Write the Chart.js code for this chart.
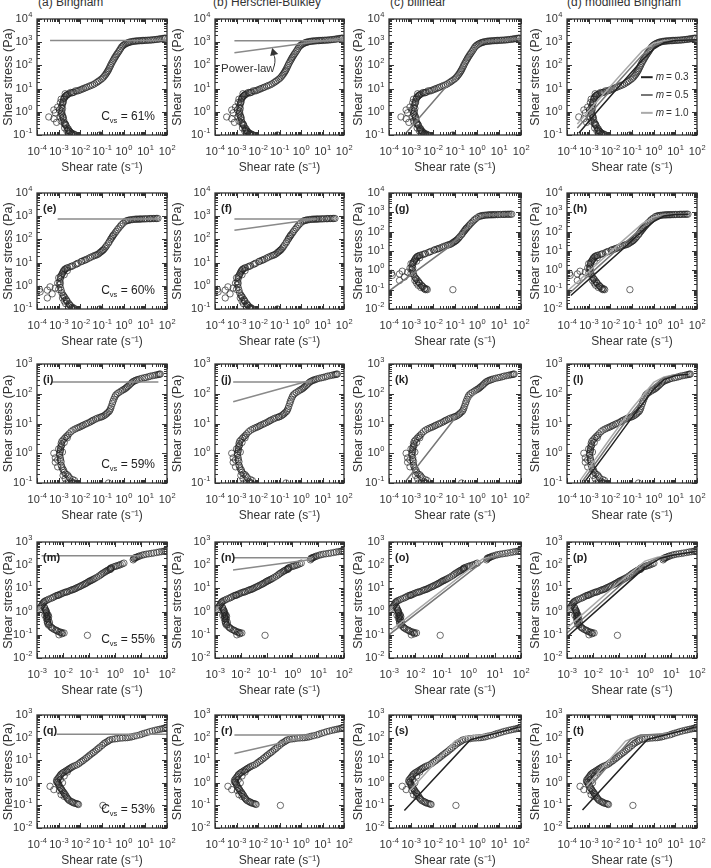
<!DOCTYPE html>
<html>
<head>
<meta charset="utf-8">
<script src="https://cdn.jsdelivr.net/npm/chart.js@4.4.0/dist/chart.umd.min.js"></script>
<style>
body{margin:0;background:#fff;width:711px;height:868px;position:relative;overflow:hidden;font-family:"Liberation Sans",Arial,sans-serif;color:#333}
canvas{position:absolute}
.ttl{position:absolute;top:-5px;font-size:12px;white-space:nowrap;line-height:14px}
</style>
</head>
<body>
<div class="ttl" style="left:38px">(a) Bingham</div>
<div class="ttl" style="left:213px">(b) Herschel-Bulkley</div>
<div class="ttl" style="left:390px">(c) bilinear</div>
<div class="ttl" style="left:567px">(d) modified Bingham</div>
<script>
// measured flow curves, [shear rate (1/s), shear stress (Pa)]
var cvs61 = [[0.0045,0.1],[0.005,0.11],[0.0055,0.1],[0.004,0.12],[0.0035,0.13],[0.003,0.15],[0.0028,0.18],[0.0025,0.2],[0.0022,0.25],[0.002,0.3],[0.0018,0.35],[0.0017,0.45],[0.0016,0.55],[0.0015,0.7],[0.0014,0.9],[0.0014,1.1],[0.0015,1.4],[0.0014,1.8],[0.0015,2.2],[0.0016,2.8],[0.0017,3.5],[0.0019,4.3],[0.0022,5],[0.0026,5.6],[0.003,6],[0.004,6.5],[0.005,7],[0.007,7.8],[0.01,8.8],[0.014,10],[0.02,11.5],[0.03,13.5],[0.045,16],[0.065,20],[0.09,25],[0.12,32],[0.15,42],[0.18,55],[0.21,72],[0.25,100],[0.3,140],[0.36,190],[0.43,250],[0.52,330],[0.65,450],[0.8,620],[1,760],[1.3,880],[1.7,970],[2.2,1040],[3,1100],[4,1130],[5.5,1160],[7.5,1180],[10,1200],[14,1220],[20,1250],[28,1300],[40,1350],[55,1420],[75,1480],
  [0.012,9.5],[0.017,10.8],[0.025,12.5],[0.037,14.5],[0.055,18],[0.075,22],[0.105,28],[0.135,37],[0.165,48],[0.195,62],[0.23,85],[0.27,118],[0.33,165],[0.39,220],[0.47,290],[0.58,385],[0.72,530],[0.9,690],[1.15,820],[1.5,930],[1.9,1010],[2.6,1075],[3.5,1115],[4.7,1145],[6.5,1170],[8.5,1190],[12,1210],[17,1235],[24,1275],[34,1320],[47,1385],[65,1450],[85,1500],
  [0.0013,0.8],[0.0013,1.5],[0.0016,2.5],[0.0018,3.9],[0.0021,4.7],[0.0024,5.3],[0.0045,6.8],[0.0085,8.3],[0.0016,0.6],[0.0018,0.3],[0.0021,0.28],[0.0027,0.16],[0.0033,0.14],[0.0042,0.11],[0.006,0.1],
  [0.0012,0.6],[0.0011,1.2],[0.0013,0.4],[0.0019,0.2],[0.0024,0.15],[0.003,0.12],[0.0012,2.5],[0.0013,3.5],[0.002,6],[0.0035,6.8],[0.006,8],
  [0.00035,0.6],[0.0006,1.2],[0.0007,0.9],[0.0008,0.35],[0.0009,1.6],[0.0006,0.5],[0.08,0.1]];
var cvs60 = [[0.0045,0.1],[0.005,0.11],[0.0042,0.12],[0.0035,0.14],[0.003,0.17],[0.0025,0.21],[0.0022,0.26],[0.0019,0.32],[0.0016,0.4],[0.0014,0.5],[0.0013,0.65],[0.0012,0.85],[0.0011,1.1],[0.0011,1.5],[0.0012,2],[0.0013,2.7],[0.0015,3.5],[0.0017,4.5],[0.002,5.3],[0.0026,6],[0.0033,6.5],[0.0045,7.3],[0.006,8.3],[0.008,9.5],[0.011,11],[0.015,12.5],[0.02,14],[0.03,17],[0.045,20],[0.06,22],[0.08,27],[0.1,32],[0.12,37],[0.15,48],[0.2,70],[0.25,100],[0.3,130],[0.35,160],[0.45,220],[0.6,310],[0.8,430],[1.2,600],[1.6,660],[2.1,700],[3,730],[4,745],[5.3,750],[7,760],[10,770],[15,780],[20,790],[28,795],[38,800],
  [0.012,11.5],[0.017,13],[0.025,15.5],[0.037,18.5],[0.052,21],[0.07,24],[0.09,29],[0.11,34],[0.135,42],[0.17,57],[0.22,82],[0.27,112],[0.32,145],[0.4,190],[0.52,265],[0.7,370],[0.95,500],[1.4,640],[1.8,680],[2.5,715],[3.5,740],[4.6,748],[6,755],[8.5,765],[12,775],[17,785],[24,792],[33,798],
  [0.0012,1.3],[0.0012,2.4],[0.0014,3.1],[0.0016,4],[0.0019,5],[0.0023,5.7],[0.0039,6.9],[0.007,8.9],[0.0017,0.36],[0.0023,0.23],[0.0032,0.15],[0.004,0.11],[0.0055,0.1],
  [0.0015,0.3],[0.0018,0.22],[0.0021,0.17],[0.0028,0.13],[0.001,0.7],[0.0009,1.3],[0.001,2.2],[0.0018,3],[0.0025,4.5],
  [0.00013,0.7],[0.00014,0.55],[0.0003,0.3],[0.0007,0.8],[0.0003,0.65],[0.0005,0.45],[0.0004,0.9],[0.08,0.1]];
var cvs59 = [[0.0038,0.1],[0.0055,0.12],[0.005,0.1],[0.0045,0.13],[0.0032,0.15],[0.0025,0.19],[0.0018,0.23],[0.0015,0.3],[0.0013,0.4],[0.0013,0.52],[0.0012,0.7],[0.0011,0.85],[0.0011,1],[0.0012,1.3],[0.0013,1.7],[0.0013,2.1],[0.0016,2.8],[0.0022,3.6],[0.003,4.5],[0.0046,6],[0.007,7],[0.01,7.8],[0.0136,8.8],[0.02,10],[0.03,11.5],[0.04,13],[0.06,15],[0.09,16.5],[0.12,18],[0.16,21],[0.21,25],[0.25,32],[0.3,47],[0.35,65],[0.43,90],[0.6,110],[0.9,133],[1.2,150],[1.5,173],[2,210],[2.6,250],[3.5,280],[4.6,300],[7,330],[11,355],[17,390],[28,420],[40,445],[49,460],
  [0.0085,7.4],[0.012,8.3],[0.017,9.4],[0.025,10.7],[0.035,12.3],[0.05,14],[0.075,15.8],[0.1,17],[0.14,19.5],[0.18,23],[0.23,28],[0.27,38],[0.32,55],[0.39,78],[0.5,100],[0.75,122],[1.05,141],[1.35,162],[1.75,190],[2.3,230],[3,265],[4,290],[5.5,315],[9,345],[14,372],[22,405],[34,432],[45,452],
  [0.0012,0.6],[0.0012,1.15],[0.0012,1.5],[0.0014,1.9],[0.0014,2.5],[0.0019,3.2],[0.0026,4],[0.0037,5.3],[0.0057,6.5],[0.0014,0.35],[0.0017,0.27],[0.0021,0.2],[0.0028,0.17],[0.004,0.11],[0.0045,0.1],
  [0.0016,0.18],[0.002,0.14],[0.0009,0.6],[0.001,1.4],[0.0015,1.1],[0.0018,2.3],[0.0025,3.3],
  [0.0006,1],[0.0007,0.5],[0.0009,0.35],[0.0007,0.7],[0.2,0.1],[0.0022,0.1]];
var cvs55 = [[0.0013,1.4],[0.0015,1.8],[0.0017,2.3],[0.0019,2.7],[0.0024,3.1],[0.0034,3.7],[0.0045,4.3],[0.006,5],[0.007,5.2],[0.009,6],[0.012,6.8],[0.015,7.2],[0.02,8.3],[0.025,9],[0.031,10],[0.04,11.5],[0.05,13],[0.065,15],[0.08,17],[0.1,20],[0.12,22],[0.15,25],[0.2,30],[0.28,38],[0.35,46],[0.45,55],[0.55,62],[0.68,67],[0.7,75],[0.9,85],[1.2,94],[1.6,105],[2.2,123],[5,170],[5.3,200],[6,210],[7,225],[9,250],[13,284],[20,310],[31,335],[50,370],[75,400],[95,420],
  [0.0014,1.6],[0.0016,2],[0.0018,2.5],[0.0021,2.9],[0.0028,3.4],[0.004,4],[0.0052,4.7],[0.0065,5.1],[0.008,5.6],[0.0105,6.4],[0.0135,7],[0.0175,7.8],[0.0225,8.7],[0.028,9.5],[0.035,10.8],[0.045,12.2],[0.057,14],[0.072,16],[0.09,18.5],[0.11,21],[0.135,23.5],[0.17,27],[0.24,34],[0.31,42],[0.4,50],[0.5,58],[0.62,65],[0.66,72],[0.75,78],[1.05,90],[1.4,100],[1.9,114],[5.5,190],[6.5,215],[8,240],[11,270],[16,298],[25,322],[40,352],[62,385],[85,410],
  [0.002,1.4],[0.0022,1.1],[0.0023,0.9],[0.0025,0.75],[0.0024,0.58],[0.0027,0.45],[0.0025,0.35],[0.003,0.28],[0.0037,0.2],[0.0046,0.17],[0.0058,0.15],[0.0075,0.13],[0.0095,0.12],[0.0028,0.6],[0.002,0.7],
  [0.0019,1.6],[0.0021,1.2],[0.0022,0.83],[0.0024,0.65],[0.0026,0.51],[0.0025,0.4],[0.0026,0.3],[0.0028,0.26],[0.0034,0.22],[0.004,0.19],[0.0053,0.16],[0.0065,0.14],[0.0083,0.13],[0.011,0.12],[0.007,0.1],[0.009,0.11],[0.0023,1],[0.0027,0.7],[0.0023,0.5],[0.003,0.35],[0.087,0.095]];
var cvs53 = [[0.0082,0.11],[0.0065,0.12],[0.0048,0.13],[0.0038,0.15],[0.0028,0.18],[0.0024,0.22],[0.002,0.3],[0.0017,0.38],[0.0014,0.49],[0.0012,0.6],[0.001,0.81],[0.0009,1],[0.0008,1.3],[0.001,1.7],[0.0012,2.2],[0.0015,2.7],[0.002,3.2],[0.0027,3.8],[0.0034,4.4],[0.0045,5.2],[0.0069,6.2],[0.01,8],[0.014,10],[0.02,13],[0.028,17],[0.04,22],[0.057,29],[0.08,38],[0.12,53],[0.17,65],[0.23,79],[0.4,88],[0.68,94],[1.2,98],[1.9,103],[3,115],[5.6,132],[9,155],[16,184],[28,210],[46,233],[70,255],[94,277],
  [0.0009,1.1],[0.0009,1.5],[0.0011,1.9],[0.0013,2.4],[0.0017,2.9],[0.0023,3.5],[0.003,4.1],[0.0039,4.8],[0.0055,5.7],[0.0085,7],[0.012,9],[0.017,11.5],[0.024,15],[0.034,19.5],[0.048,25],[0.068,33],[0.1,45],[0.14,59],[0.2,72],[0.3,84],[0.5,90],[0.9,96],[1.5,100],[2.4,108],[4,122],[7,143],[12,168],[21,196],[36,222],[58,244],[82,266],
  [0.0075,0.115],[0.0056,0.125],[0.0043,0.14],[0.0032,0.16],[0.0026,0.2],[0.0022,0.26],[0.0018,0.34],[0.0015,0.43],[0.0013,0.55],[0.0011,0.7],[0.001,0.9],[0.0008,1.1],
  [0.0013,0.3],[0.0018,0.25],[0.0011,0.45],[0.0015,1],[0.0012,1.4],[0.0018,2],[0.0025,3],[0.0004,0.7],[0.0006,0.5],[0.11,0.1]];

// fitted model lines
var fitA = [[0.0004,1170],[100,1170]];
var fitB = [[0.0008,1150],[100,1150]];
var fitBpow = [[0.0008,350],[100,1500]];
var fitC = [[0.0005,0.1],[0.03,9],[0.1,28],[0.5,330],[2,1050],[100,1450]];
var fitD03 = [[0.00035,0.12],[0.003,1.3],[0.03,15],[0.3,170],[1,500],[3,950],[10,1170],[100,1260]];
var fitD05 = [[0.0003,0.2],[0.003,2.3],[0.03,26],[0.3,280],[1,700],[3,1050],[10,1200],[100,1260]];
var fitD10 = [[0.0003,0.3],[0.003,3.5],[0.03,40],[0.3,420],[1,900],[3,1150],[10,1230],[100,1260]];

var fitE = [[0.0009,760],[40,760]];
var fitF = [[0.0008,760],[5,760]];
var fitFpow = [[0.0008,250],[5,760]];
var fitG = [[0.0001,0.085],[0.06,18],[0.6,310],[2,700],[40,850]];
var fitH03 = [[0.00015,0.05],[0.003,1],[0.03,10],[0.3,110],[1,330],[3,640],[10,780],[40,800]];
var fitH05 = [[0.00012,0.06],[0.003,1.7],[0.03,17],[0.3,170],[1,450],[3,710],[10,790],[40,800]];
var fitH10 = [[0.0001,0.08],[0.003,2.6],[0.03,27],[0.3,260],[1,580],[3,760],[10,795],[40,800]];

var fitI = [[0.0005,250],[40,250]];
var fitJ = [[0.0007,250],[3.2,250]];
var fitJpow = [[0.0007,54],[3.2,290]];
var fitK = [[0.0005,0.1],[0.15,22],[0.3,47],[2,210],[40,450]];
var fitL03 = [[0.0006,0.1],[0.01,1.6],[0.1,16],[1,140],[3,300],[10,410],[40,450]];
var fitL05 = [[0.0005,0.11],[0.01,2.3],[0.1,23],[1,190],[3,340],[10,425],[40,450]];
var fitL10 = [[0.0004,0.12],[0.01,3.2],[0.1,32],[1,240],[3,370],[10,435],[40,450]];

var fitM = [[0.0015,257],[10,257]];
var fitN = [[0.005,210],[5.4,210]];
var fitNpow = [[0.005,62],[5.4,178]];
var fitO1 = [[0.001,0.1],[4.9,185],[100,450]];
var fitO2 = [[0.0012,0.16],[3.5,185],[100,430]];
var fitP03 = [[0.001,0.08],[0.1,8],[1,80],[4,200],[10,260],[100,400]];
var fitP05 = [[0.001,0.12],[0.1,12],[1,110],[3,200],[10,270],[100,400]];
var fitP10 = [[0.001,0.2],[0.1,18],[1,150],[3,220],[10,280],[100,400]];

var fitQ = [[0.0008,140],[100,140]];
var fitR = [[0.0008,130],[5,130]];
var fitRpow = [[0.0008,20],[5,130]];
var fitS1 = [[0.0005,0.06],[0.5,80],[4,135],[100,300]];
var fitS2 = [[0.0008,0.4],[0.1,70],[0.3,110],[4,145],[100,270]];
var fitT03 = [[0.00052,0.062],[0.51,83],[4.2,137],[100,300]];
var fitT05 = [[0.0009,0.5],[0.087,83],[0.25,130],[4.2,145],[100,260]];
var fitT10 = [[0.0008,0.7],[0.05,70],[0.2,120],[4,150],[100,260]];

var cvsLabels = ['61%', '60%', '59%', '55%', '53%'];
var mLabels = ['0.3', '0.5', '1.0'];

// layout of the 4 x 5 grid (plot area in page pixels)
var colLeft = [37, 215, 389, 567];
var colWidth = [130, 129, 132, 130];
var colPad = [37, 46, 39, 40];
var rowTop = [19, 193, 364, 542, 715];
var rowHeight = [116, 116, 119, 116, 113];

var gray1 = '#222', gray2 = '#777', gray3 = '#aaa', lineGray = '#8a8a8a';
var fam = '"Liberation Sans", Arial, sans-serif';

function pts(arr) {
    return arr.map(function (p) { return {x: p[0], y: p[1]}; });
}

function fitLine(arr, color, width) {
    return {type: 'line', data: pts(arr), borderColor: color, borderWidth: width || 1.5,
        pointRadius: 0, showLine: true, fill: false, tension: 0, order: 0};
}

function logTicks(min, max) {
    var out = [];
    for (var e = Math.round(Math.log10(min)); e < Math.round(Math.log10(max)); e++) {
        for (var s = 1; s < 10; s++) out.push({v: s * Math.pow(10, e), major: s === 1, e: e});
    }
    out.push({v: max, major: true, e: Math.round(Math.log10(max))});
    return out;
}

// "10" with a small raised exponent, anchored by align ('center' or 'right')
function powLabel(ctx, e, x, y, align) {
    ctx.font = '11px ' + fam;
    var w1 = ctx.measureText('10').width;
    ctx.font = '7.5px ' + fam;
    var w2 = ctx.measureText(String(e)).width;
    var x0 = align === 'right' ? x - w1 - w2 : x - (w1 + w2) / 2;
    ctx.font = '11px ' + fam;
    ctx.fillText('10', x0, y);
    ctx.font = '7.5px ' + fam;
    ctx.fillText(String(e), x0 + w1 + 0.5, y - 4);
}

// frame with inward ticks on all sides, tick labels, panel tag, Cvs note, legend, arrow
var panelPlugin = {
    id: 'panel',
    afterDraw: function (chart, args, o) {
        var ctx = chart.ctx, a = chart.chartArea, x = chart.scales.x, y = chart.scales.y;
        var xt = logTicks(x.min, x.max), yt = logTicks(y.min, y.max);
        ctx.save();
        ctx.strokeStyle = '#333';
        ctx.lineWidth = 1;
        ctx.beginPath();
        xt.forEach(function (t) {
            var px = Math.round(x.getPixelForValue(t.v)) + 0.5, l = t.major ? 5 : 3;
            ctx.moveTo(px, a.bottom); ctx.lineTo(px, a.bottom - l);
            ctx.moveTo(px, a.top); ctx.lineTo(px, a.top + l);
        });
        yt.forEach(function (t) {
            var py = Math.round(y.getPixelForValue(t.v)) + 0.5, l = t.major ? 5 : 3;
            ctx.moveTo(a.left, py); ctx.lineTo(a.left + l, py);
            ctx.moveTo(a.right, py); ctx.lineTo(a.right - l, py);
        });
        ctx.stroke();
        ctx.lineWidth = 1.3;
        ctx.strokeRect(a.left, a.top, a.right - a.left, a.bottom - a.top);

        ctx.fillStyle = '#333';
        ctx.textBaseline = 'middle';
        ctx.textAlign = 'left';
        xt.forEach(function (t) { if (t.major) powLabel(ctx, t.e, x.getPixelForValue(t.v), a.bottom + 17, 'center'); });
        yt.forEach(function (t) { if (t.major) powLabel(ctx, t.e, a.left - 5, y.getPixelForValue(t.v), 'right'); });

        ctx.fillStyle = '#222';
        if (o.tag) {
            ctx.font = 'bold 11px ' + fam;
            ctx.fillText(o.tag, a.left + 6, a.top + o.tagDy);
        }
        if (o.cvs) {
            var big = '12px ' + fam, small = '7.5px ' + fam;
            var rest = ' = ' + o.cvs;
            ctx.font = big; var wC = ctx.measureText('C').width, wR = ctx.measureText(rest).width;
            ctx.font = small; var wS = ctx.measureText('vs').width;
            var x0 = a.right - 12 - wC - wS - wR, yy = a.bottom - 18;
            ctx.font = big; ctx.fillText('C', x0, yy);
            ctx.font = small; ctx.fillText('vs', x0 + wC, yy + 4);
            ctx.font = big; ctx.fillText(rest, x0 + wC + wS, yy);
        }
        if (o.legend) {
            var cols = [gray1, gray2, gray3], ys = [31, 5.3, 0.9];
            ys.forEach(function (v, i) {
                var py = y.getPixelForValue(v);
                ctx.strokeStyle = cols[i];
                ctx.lineWidth = 2;
                ctx.beginPath();
                ctx.moveTo(x.getPixelForValue(0.26), py);
                ctx.lineTo(x.getPixelForValue(0.9), py);
                ctx.stroke();
                var tx = x.getPixelForValue(1.25);
                ctx.fillStyle = '#333';
                ctx.font = 'italic 10px ' + fam;
                ctx.fillText('m', tx, py);
                var wm = ctx.measureText('m').width;
                ctx.font = '10px ' + fam;
                ctx.fillText('= ' + mLabels[i], tx + wm + 2, py);
            });
        }
        if (o.note) {
            ctx.font = '11.5px ' + fam;
            ctx.fillStyle = '#333';
            ctx.fillText('Power-law', x.getPixelForValue(0.00019), y.getPixelForValue(70));
            var tipX = x.getPixelForValue(0.051), tipY = y.getPixelForValue(560);
            var tailY = y.getPixelForValue(93);
            ctx.strokeStyle = '#333';
            ctx.lineWidth = 1;
            ctx.beginPath();
            ctx.moveTo(tipX + 1, tailY);
            ctx.quadraticCurveTo(tipX + 3, tipY + 10, tipX, tipY + 6);
            ctx.stroke();
            ctx.beginPath();
            ctx.moveTo(tipX - 1, tipY);
            ctx.lineTo(tipX + 5, tipY + 6);
            ctx.lineTo(tipX - 3, tipY + 8);
            ctx.closePath();
            ctx.fill();
        }
        ctx.restore();
    }
};

var panels = [
    {r: 0, c: 0, data: cvs61, ymin: 0.1, ymax: 1e4, fits: [[fitA, lineGray]], cvs: cvsLabels[0]},
    {r: 0, c: 1, data: cvs61, ymin: 0.1, ymax: 1e4, fits: [[fitB, lineGray], [fitBpow, lineGray]], note: true},
    {r: 0, c: 2, data: cvs61, ymin: 0.1, ymax: 1e4, fits: [[fitC, gray2]]},
    {r: 0, c: 3, data: cvs61, ymin: 0.1, ymax: 1e4, fits: [[fitD03, gray1], [fitD05, gray2], [fitD10, gray3]], legend: true},
    {r: 1, c: 0, data: cvs60, ymin: 0.1, ymax: 1e4, fits: [[fitE, lineGray]], tag: '(e)', cvs: cvsLabels[1]},
    {r: 1, c: 1, data: cvs60, ymin: 0.1, ymax: 1e4, fits: [[fitF, lineGray], [fitFpow, lineGray]], tag: '(f)'},
    {r: 1, c: 2, data: cvs60, ymin: 0.01, ymax: 1e4, fits: [[fitG, gray2]], tag: '(g)'},
    {r: 1, c: 3, data: cvs60, ymin: 0.01, ymax: 1e4, fits: [[fitH03, gray1], [fitH05, gray2], [fitH10, gray3]], tag: '(h)'},
    {r: 2, c: 0, data: cvs59, ymin: 0.1, ymax: 1e3, fits: [[fitI, lineGray]], tag: '(i)', cvs: cvsLabels[2]},
    {r: 2, c: 1, data: cvs59, ymin: 0.1, ymax: 1e3, fits: [[fitJ, lineGray], [fitJpow, lineGray]], tag: '(j)'},
    {r: 2, c: 2, data: cvs59, ymin: 0.1, ymax: 1e3, fits: [[fitK, gray2]], tag: '(k)'},
    {r: 2, c: 3, data: cvs59, ymin: 0.1, ymax: 1e3, fits: [[fitL03, gray1], [fitL05, gray2], [fitL10, gray3]], tag: '(l)'},
    {r: 3, c: 0, data: cvs55, xmin: 1e-3, ymin: 0.01, ymax: 1e3, fits: [[fitM, lineGray]], tag: '(m)', cvs: cvsLabels[3]},
    {r: 3, c: 1, data: cvs55, xmin: 1e-3, ymin: 0.01, ymax: 1e3, fits: [[fitN, lineGray], [fitNpow, lineGray]], tag: '(n)'},
    {r: 3, c: 2, data: cvs55, xmin: 1e-3, ymin: 0.01, ymax: 1e3, fits: [[fitO1, gray2], [fitO2, gray3]], tag: '(o)'},
    {r: 3, c: 3, data: cvs55, xmin: 1e-3, ymin: 0.01, ymax: 1e3, fits: [[fitP03, gray1], [fitP05, gray2], [fitP10, gray3]], tag: '(p)'},
    {r: 4, c: 0, data: cvs53, ymin: 0.01, ymax: 1e3, fits: [[fitQ, lineGray]], tag: '(q)', cvs: cvsLabels[4]},
    {r: 4, c: 1, data: cvs53, ymin: 0.01, ymax: 1e3, fits: [[fitR, lineGray], [fitRpow, lineGray]], tag: '(r)'},
    {r: 4, c: 2, data: cvs53, ymin: 0.01, ymax: 1e3, fits: [[fitS1, gray1], [fitS2, gray3]], tag: '(s)'},
    {r: 4, c: 3, data: cvs53, ymin: 0.01, ymax: 1e3, fits: [[fitT03, gray1], [fitT05, gray2], [fitT10, gray3]], tag: '(t)'}
];

var tPad = 10, rPad = 12, bPad = 42;

panels.forEach(function (p) {
    var lPad = colPad[p.c];
    var w = colWidth[p.c] + lPad + rPad, h = rowHeight[p.r] + tPad + bPad;
    var cv = document.createElement('canvas');
    cv.width = w; cv.height = h;
    cv.style.left = (colLeft[p.c] - lPad) + 'px';
    cv.style.top = (rowTop[p.r] - tPad) + 'px';
    document.body.appendChild(cv);

    var sets = p.fits.map(function (f) { return fitLine(f[0], f[1]); });
    sets.push({data: pts(p.data), pointStyle: 'circle', pointRadius: 3.2, borderWidth: 0.9,
        borderColor: 'rgba(30,30,30,0.72)', backgroundColor: 'rgba(0,0,0,0)', order: 1});

    new Chart(cv, {
        type: 'scatter',
        data: {datasets: sets},
        options: {
            responsive: false, animation: false, devicePixelRatio: 1,
            layout: {padding: {top: tPad, right: rPad, left: 0, bottom: 0}},
            plugins: {legend: {display: false}, tooltip: {enabled: false},
                panel: {tag: p.tag, tagDy: 16, cvs: p.cvs, legend: p.legend, note: p.note}},
            scales: {
                x: {type: 'logarithmic', min: p.xmin || 1e-4, max: 100,
                    grid: {display: false, drawTicks: false}, border: {display: false},
                    ticks: {display: false},
                    title: {display: true, text: 'Shear rate (s⁻¹)', color: '#333', font: {family: fam, size: 12}, padding: {top: 0, bottom: 2}},
                    afterFit: function (s) { s.height = bPad; }},
                y: {type: 'logarithmic', min: p.ymin, max: p.ymax,
                    grid: {display: false, drawTicks: false}, border: {display: false},
                    ticks: {display: false},
                    title: {display: true, text: 'Shear stress (Pa)', color: '#333', font: {family: fam, size: 12.5}, padding: {top: 1, bottom: 0}},
                    afterFit: function (s) { s.width = lPad; }}
            }
        },
        plugins: [panelPlugin]
    });
});
</script>
</body>
</html>
